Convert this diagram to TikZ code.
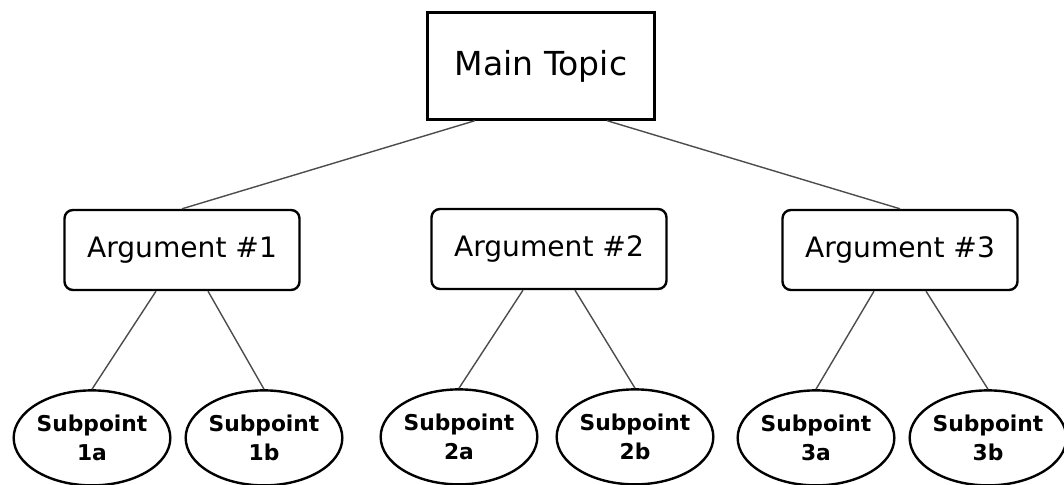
\documentclass[tikz,border=0pt]{standalone}
\usepackage{fontspec}
\setmainfont{DejaVu Sans}
\usepackage{tikz}
\usetikzlibrary{positioning,shapes.geometric,calc}
\tikzset{
  topbox/.style={draw, line width=1.7pt, align=center, minimum width=5.675cm, minimum height=2.675cm, font=\fontsize{23.5}{27}\selectfont},
  argbox/.style={draw, line width=1.7pt, rounded corners=6pt, align=center, minimum width=5.875cm, minimum height=2cm, font=\fontsize{20}{24}\selectfont},
  subpt/.style={ellipse, draw, line width=1.7pt, align=center, inner sep=0pt, minimum width=3.8cm, minimum height=2.375cm, font=\fontsize{15.5}{20.5}\selectfont\bfseries},
  link/.style={line width=1pt, black!70}
}

\begin{document}
\begin{tikzpicture}
        \useasboundingbox (0,0) rectangle (26.6,12.125);
        % top level
        \node[topbox] (main) at (13.525,10.475) {Main Topic};
        % arguments
        \node[argbox] (arg1) at (4.55,5.875) {Argument \#1};
        \node[argbox] (arg2) at (13.725,5.9) {Argument \#2};
        \node[argbox] (arg3) at (22.5,5.875) {Argument \#3};
        % subpoints
        \node[subpt, below=2.45cm of arg1, xshift=-2.25cm] (s1a) {Subpoint\\1a};
        \node[subpt, below=2.45cm of arg1, xshift=2.05cm] (s1b) {Subpoint\\1b};
        \node[subpt, below=2.45cm of arg2, xshift=-2.25cm] (s2a) {Subpoint\\2a};
        \node[subpt, below=2.45cm of arg2, xshift=2.15cm] (s2b) {Subpoint\\2b};
        \node[subpt, below=2.45cm of arg3, xshift=-2.1cm] (s3a) {Subpoint\\3a};
        \node[subpt, below=2.45cm of arg3, xshift=2.2cm] (s3b) {Subpoint\\3b};
        % connectors
        \draw[link] ($(main.south)+(-1.65,0)$) -- (arg1.north);
        \draw[link] ($(main.south)+(-0.1,0)$) -- ($(main.south)+(-0.1,0)$ |- arg2.north);
        \draw[link] ($(main.south)+(1.65,0)$) -- (arg3.north);
        \foreach \a in {1,2,3} {
          \draw[link] ($(arg\a.south)+(-0.65,0)$) -- (s\a a.north);
          \draw[link] ($(arg\a.south)+(0.65,0)$) -- (s\a b.north);
        }
      \end{tikzpicture}
\end{document}
